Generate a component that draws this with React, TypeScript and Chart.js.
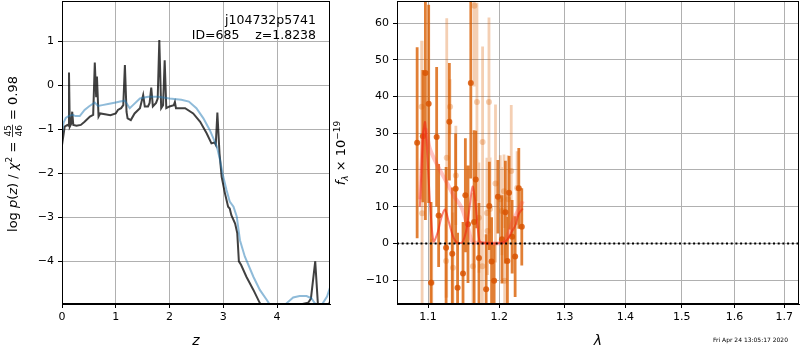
import React, { useEffect, useRef } from 'react';
import { Chart, registerables } from 'chart.js';
Chart.register(...registerables);

// ---------- Left panel: log p(z) and chi2 curves ----------
const PZ_Z = [0, 0.05, 0.1, 0.12, 0.13, 0.145, 0.17, 0.19, 0.21, 0.27, 0.35, 0.42, 0.52, 0.58, 0.61, 0.635, 0.65, 0.68, 0.71, 0.8, 0.9, 1.0, 1.04, 1.1, 1.14, 1.17, 1.2, 1.22, 1.28, 1.35, 1.45, 1.51, 1.54, 1.6, 1.63, 1.66, 1.69, 1.75, 1.78, 1.81, 1.845, 1.88, 1.91, 1.94, 2.0, 2.08, 2.1, 2.12, 2.29, 2.44, 2.57, 2.69, 2.78, 2.84, 2.86, 2.89, 2.93, 2.97, 3.03, 3.09, 3.12, 3.15, 3.22, 3.26, 3.29, 3.33, 3.43, 3.56, 3.68, 3.8, 4.0, 4.3, 4.48, 4.58, 4.63, 4.71, 4.76, 4.8, 4.92, 4.99];
const PZ_LOG = [-1.36, -0.94, -0.9, -0.92, 0.29, -0.94, -0.88, -0.6, -0.9, -0.92, -0.9, -0.83, -0.71, -0.67, 0.52, -0.25, 0.2, -0.71, -0.64, -0.66, -0.68, -0.64, -0.56, -0.52, -0.45, 0.46, -0.6, -0.75, -0.79, -0.64, -0.52, -0.22, -0.48, -0.48, -0.4, -0.05, -0.48, -0.4, -0.3, 1.03, -0.52, -0.45, 0.57, -0.52, -0.48, -0.45, -0.38, -0.52, -0.52, -0.64, -0.83, -1.09, -1.32, -1.3, -1.35, -0.62, -1.55, -2.08, -2.45, -2.76, -2.8, -2.95, -3.14, -3.36, -4.0, -4.08, -4.35, -4.65, -4.95, -5.2, -5.5, -5.3, -4.97, -4.94, -4.85, -4.0, -4.97, -5.2, -5.1, -4.9];

const CHI_Z = [0, 0.03, 0.07, 0.12, 0.2, 0.25, 0.33, 0.42, 0.5, 0.61, 0.67, 0.75, 0.88, 1.0, 1.08, 1.17, 1.26, 1.32, 1.45, 1.6, 1.79, 2.0, 2.22, 2.36, 2.5, 2.63, 2.75, 2.88, 2.94, 3.0, 3.06, 3.12, 3.19, 3.25, 3.31, 3.4, 3.56, 3.68, 3.81, 3.9, 4.05, 4.18, 4.3, 4.42, 4.55, 4.64, 4.7, 4.8, 4.93, 4.99];
const CHI_LOG = [-1.1, -0.85, -0.74, -0.7, -0.67, -0.7, -0.7, -0.56, -0.48, -0.39, -0.47, -0.45, -0.42, -0.39, -0.37, -0.35, -0.52, -0.45, -0.3, -0.26, -0.26, -0.3, -0.33, -0.37, -0.52, -0.75, -1.02, -1.39, -1.7, -2.08, -2.38, -2.64, -2.76, -2.98, -3.52, -3.89, -4.35, -4.65, -4.88, -5.05, -5.1, -4.95, -4.82, -4.79, -4.79, -4.84, -4.95, -5.05, -4.8, -4.58];

const Z_TICKS = [0, 1, 2, 3, 4];
const LOGP_TICKS = [-4, -3, -2, -1, 0, 1];
const Z_MIN = 0, Z_MAX = 4.985, LOGP_MIN = -4.97, LOGP_MAX = 1.916;

// ---------- Right panel: spectrum ----------
const DARK_WAVE = [1.0854, 1.093, 1.0964, 1.1008, 1.104, 1.1116, 1.1143, 1.1245, 1.129, 1.133, 1.1377, 1.1404, 1.148, 1.1513, 1.155, 1.159, 1.1637, 1.166, 1.1706, 1.1809, 1.1855, 1.1888, 1.1925, 1.198, 1.204, 1.209, 1.212, 1.2145, 1.219, 1.2235, 1.229, 1.2335];
const DARK_FLUX = [27.4, 29.2, 46.4, 38.0, -10.7, 29.0, 7.6, -1.2, 33.1, -2.8, 14.9, -12.1, -8.2, 13.1, 5.2, 43.7, 5.8, 17.4, -4.0, -12.5, 10.2, -4.9, -10.2, 12.7, 1.1, 8.5, -4.8, 13.8, 1.8, -3.6, 15.0, 4.5];
const DARK_ERR = [26, 18, 40, 27, 22, 19, 14, 22, 16, 18, 15, 15, 14, 15.5, 16, 26, 25, 13.3, 15, 15, 12, 12, 10, 10, 12, 14, 12, 10, 10, 11, 11, 10.5];

const LIGHT_WAVE = [1.0914, 1.092, 1.105, 1.1245, 1.1254, 1.13, 1.134, 1.138, 1.162, 1.164, 1.1677, 1.1705, 1.1755, 1.1758, 1.182, 1.183, 1.185, 1.1866, 1.1945, 1.2015, 1.204, 1.207, 1.208, 1.213, 1.2177, 1.2265];
const LIGHT_FLUX = [37.2, 8.2, -10.7, -4.8, 23.3, 37.2, -6.6, 18.5, -6.2, 64.7, 38.5, 7.0, -6.2, 27.6, 8.3, 3.4, 38.5, 9.4, 16.3, 12.0, 8.8, 14.2, -10.2, 12.0, 19.7, 15.1];
const LIGHT_ERR = [18, 47, 12, 10, 38, 7.5, 15, 13.5, 20, 22, 27, 15, 10, 26, 15, 12, 23, 14, 21.5, 12, 12, 10, 10, 12, 18, 10];

const MODEL_WAVE = [1.089, 1.0935, 1.096, 1.099, 1.103, 1.1075, 1.113, 1.118, 1.123, 1.128, 1.134, 1.139, 1.147, 1.153, 1.158, 1.1615, 1.165, 1.168, 1.171, 1.175, 1.205, 1.212, 1.218, 1.224, 1.229, 1.235];
const MODEL_FLUX = [10, 30, 33, 24, 10, 0.5, 3, 7, 9.2, 6, 2, 0.3, 0.3, 4, 11, 15.5, 12, 6, 1, 0.2, 0.2, 1, 3, 5, 8, 9.5];

const SMOOTH_WAVE = [1.089, 1.094, 1.097, 1.102, 1.112, 1.1256, 1.135, 1.146, 1.155, 1.161, 1.17, 1.205, 1.213, 1.22, 1.228, 1.235];
const SMOOTH_FLUX = [12, 30, 31, 26, 21.5, 16.5, 13, 9.7, 4.3, 0.5, 0.2, 0.2, 2.5, 6, 9, 11.5];

const WAVE_TICKS = [1.1, 1.2, 1.3, 1.4, 1.5, 1.6, 1.7];
const FLUX_TICKS = [-10, 0, 10, 20, 30, 40, 50, 60];
const WAVE_MIN = 1.059, WAVE_MAX = 1.731, FLUX_MIN = -16.5, FLUX_MAX = 66;

const OBJ_NAME = 'j104732p5741';
const OBJ_INFO = 'ID=685    z=1.8238';
const TIMESTAMP = 'Fri Apr 24 13:05:17 2020';

const FONT = 'DejaVu Sans';
const fmtNum = (v: number, d = 0) => (v < 0 ? '\u2212' : '') + Math.abs(v).toFixed(d);

type Seg = { t?: string; size?: number; italic?: boolean; dy?: number; num?: string; den?: string };

function drawSegs(ctx: CanvasRenderingContext2D, segs: Seg[], cx: number, cy: number, rotate: boolean) {
  ctx.save();
  ctx.translate(cx, cy);
  if (rotate) ctx.rotate(-Math.PI / 2);
  ctx.fillStyle = 'black';
  ctx.textBaseline = 'alphabetic';
  ctx.textAlign = 'left';
  const fontOf = (s: Seg) => `${s.italic ? 'italic ' : ''}${s.size || 13}px "${FONT}"`;
  const widths = segs.map((s) => {
    ctx.font = fontOf(s);
    if (s.num !== undefined) {
      return Math.max(ctx.measureText(s.num).width, ctx.measureText(s.den || '').width) + 2;
    }
    return ctx.measureText(s.t || '').width;
  });
  const total = widths.reduce((a, b) => a + b, 0);
  let x = -total / 2;
  const base = 4.5;
  segs.forEach((s, i) => {
    ctx.font = fontOf(s);
    const w = widths[i];
    if (s.num !== undefined) {
      ctx.textAlign = 'center';
      ctx.fillText(s.num, x + w / 2, base - 5.5);
      ctx.fillText(s.den || '', x + w / 2, base + 5.5);
      ctx.fillRect(x + 0.5, base - 4.4, w - 1, 0.8);
      ctx.textAlign = 'left';
    } else {
      ctx.fillText(s.t || '', x, base + (s.dy || 0));
    }
    x += w;
  });
  ctx.restore();
}

const frame = (chart: any) => {
  const { ctx, chartArea: a } = chart;
  ctx.save();
  ctx.strokeStyle = 'black';
  ctx.lineWidth = 1;
  ctx.strokeRect(Math.round(a.left) + 0.5, Math.round(a.top) + 0.5, Math.round(a.right - a.left) - 1, Math.round(a.bottom - a.top) - 1);
  ctx.restore();
};

function axis(min: number, max: number, ticks: number[], fmt: (v: number) => string, isX: boolean, size: number, extra: any = {}) {
  return {
    min,
    max,
    ...extra,
    afterBuildTicks: (s: any) => {
      s.ticks = ticks.map((v) => ({ value: v }));
    },
    afterFit: (s: any) => {
      if (isX) s.height = size;
      else s.width = size;
      s.paddingTop = 0;
      s.paddingBottom = 0;
      s.paddingLeft = 0;
      s.paddingRight = 0;
    },
    grid: { color: '#b0b0b0', lineWidth: 1, tickColor: 'black', tickLength: 4, drawTicks: true },
    border: { display: true, color: 'black', width: 1 },
    ticks: {
      color: 'black',
      font: { family: FONT, size: 11 },
      padding: isX ? 3 : 4,
      maxRotation: 0,
      autoSkip: false,
      callback: (v: any) => fmt(Number(v)),
    },
    title: { display: false },
  };
}

const pts = (xs: number[], ys: number[]) => xs.map((x, i) => ({ x, y: ys[i] }));
const errSegs = (xs: number[], ys: number[], es: number[]) => {
  const out: any[] = [];
  xs.forEach((x, i) => {
    out.push({ x, y: ys[i] - es[i] }, { x, y: ys[i] + es[i] }, { x, y: null });
  });
  return out;
};

export default function App() {
  const leftRef = useRef<HTMLCanvasElement>(null);
  const rightRef = useRef<HTMLCanvasElement>(null);

  useEffect(() => {
    document.body.style.margin = '0';
    const leftPlugin = {
      id: 'leftDeco',
      afterDraw(chart: any) {
        frame(chart);
        const ctx = chart.ctx as CanvasRenderingContext2D;
        ctx.save();
        ctx.fillStyle = 'black';
        ctx.font = `12.5px "${FONT}"`;
        ctx.textAlign = 'right';
        ctx.textBaseline = 'alphabetic';
        ctx.fillText(OBJ_NAME, 316, 24);
        ctx.fillText(OBJ_INFO, 316, 39);
        ctx.restore();
        drawSegs(ctx, [{ t: 'z', italic: true, size: 14 }], 196, 340.5, false);
        drawSegs(
          ctx,
          [
            { t: 'log ' },
            { t: 'p', italic: true },
            { t: '(' },
            { t: 'z', italic: true },
            { t: ') / ' },
            { t: '\u03c7', italic: true },
            { t: '2', size: 9, dy: -5 },
            { t: ' = ' },
            { num: '45', den: '46', size: 9 },
            { t: ' = 0.98' },
          ],
          12,
          154,
          true
        );
      },
    };
    const rightPlugin = {
      id: 'rightDeco',
      afterDraw(chart: any) {
        frame(chart);
        const ctx = chart.ctx as CanvasRenderingContext2D;
        drawSegs(ctx, [{ t: '\u03bb', italic: true, size: 14 }], 273, 340.5, false);
        drawSegs(
          ctx,
          [
            { t: 'f', italic: true },
            { t: '\u03bb', italic: true, size: 9, dy: 3 },
            { t: ' \u00d7 10' },
            { t: '\u221219', size: 9, dy: -5 },
          ],
          15,
          153,
          true
        );
        ctx.save();
        ctx.fillStyle = 'black';
        ctx.font = `6px "${FONT}"`;
        ctx.textAlign = 'right';
        ctx.textBaseline = 'alphabetic';
        ctx.fillText(TIMESTAMP, 463, 342);
        ctx.restore();
      },
    };

    const c1 = new Chart(leftRef.current!, {
      type: 'line',
      data: {
        datasets: [
          {
            data: pts(CHI_Z, CHI_LOG),
            borderColor: 'rgba(31,119,180,0.5)',
            borderWidth: 2,
            pointRadius: 0,
            order: 0,
          } as any,
          {
            data: pts(PZ_Z, PZ_LOG),
            borderColor: 'rgba(0,0,0,0.75)',
            borderWidth: 2,
            pointRadius: 0,
            order: 1,
          } as any,
        ],
      },
      options: {
        responsive: false,
        animation: false,
        events: [],
        layout: { autoPadding: false, padding: { top: 1, right: 2, left: 0, bottom: 0 } },
        plugins: { legend: { display: false }, tooltip: { enabled: false } },
        scales: {
          x: axis(Z_MIN, Z_MAX, Z_TICKS, (v) => fmtNum(v), true, 46, { type: 'linear' }),
          y: axis(LOGP_MIN, LOGP_MAX, LOGP_TICKS, (v) => fmtNum(v), false, 62, { type: 'linear' }),
        } as any,
      } as any,
      plugins: [leftPlugin],
    });

    const c2 = new Chart(rightRef.current!, {
      type: 'line',
      data: {
        datasets: [
          {
            data: errSegs(LIGHT_WAVE, LIGHT_FLUX, LIGHT_ERR),
            borderColor: 'rgba(217,95,2,0.3)',
            borderWidth: 2.8,
            borderCapStyle: 'butt',
            pointRadius: 0,
            spanGaps: false,
            order: 6,
          } as any,
          {
            type: 'scatter',
            data: pts(LIGHT_WAVE, LIGHT_FLUX),
            backgroundColor: 'rgba(217,95,2,0.3)',
            borderWidth: 0,
            pointRadius: 3,
            showLine: false,
            order: 5,
          } as any,
          {
            data: errSegs(DARK_WAVE, DARK_FLUX, DARK_ERR),
            borderColor: 'rgba(217,95,2,0.8)',
            borderWidth: 2.8,
            borderCapStyle: 'butt',
            pointRadius: 0,
            spanGaps: false,
            order: 4,
          } as any,
          {
            type: 'scatter',
            data: pts(DARK_WAVE, DARK_FLUX),
            backgroundColor: 'rgba(217,85,2,0.85)',
            borderWidth: 0,
            pointRadius: 3,
            showLine: false,
            order: 3,
          } as any,
          {
            data: pts(SMOOTH_WAVE, SMOOTH_FLUX),
            borderColor: 'rgba(255,60,60,0.3)',
            borderWidth: 4,
            pointRadius: 0,
            tension: 0.3,
            order: 2,
          } as any,
          {
            data: pts(MODEL_WAVE, MODEL_FLUX),
            borderColor: 'rgba(240,30,10,0.55)',
            borderWidth: 2,
            pointRadius: 0,
            tension: 0.3,
            order: 1,
          } as any,
          {
            data: [
              { x: WAVE_MIN, y: 0 },
              { x: WAVE_MAX, y: 0 },
            ],
            borderColor: 'black',
            borderWidth: 2,
            borderDash: [2, 2.7],
            pointRadius: 0,
            order: 0,
          } as any,
        ],
      },
      options: {
        responsive: false,
        animation: false,
        events: [],
        layout: { autoPadding: false, padding: { top: 1, right: 1, left: 0, bottom: 0 } },
        plugins: { legend: { display: false }, tooltip: { enabled: false } },
        scales: {
          x: axis(WAVE_MIN, WAVE_MAX, WAVE_TICKS, (v) => v.toFixed(1), true, 46, { type: 'logarithmic' }),
          y: axis(FLUX_MIN, FLUX_MAX, FLUX_TICKS, (v) => fmtNum(v), false, 72, { type: 'linear' }),
        } as any,
      } as any,
      plugins: [rightPlugin],
    });

    return () => {
      c1.destroy();
      c2.destroy();
    };
  }, []);

  return (
    <div style={{ position: 'relative', width: 800, height: 350, background: 'white', overflow: 'hidden' }}>
      <canvas ref={leftRef} width={332} height={350} style={{ position: 'absolute', left: 0, top: 0 }} />
      <canvas ref={rightRef} width={475} height={350} style={{ position: 'absolute', left: 325, top: 0 }} />
    </div>
  );
}
